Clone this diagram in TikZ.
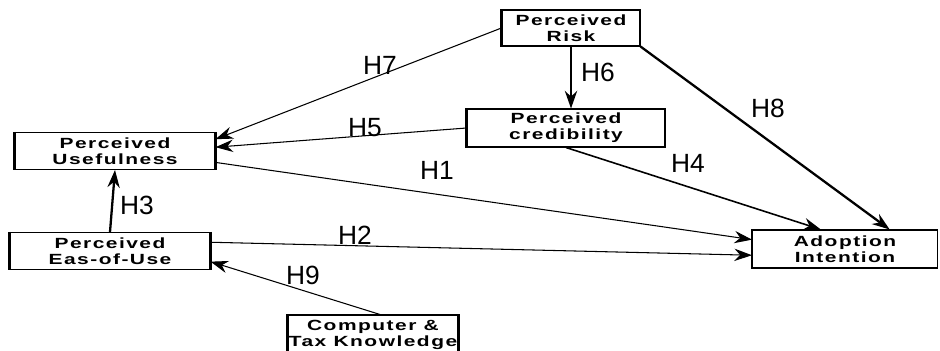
\documentclass[tikz,border=0pt]{standalone}
\usepackage{fontspec}
\setmainfont{Liberation Sans}
\newfontfamily\boxfont[FakeStretch=1.42,LetterSpace=10]{Liberation Sans}
\usetikzlibrary{arrows.meta,calc}
\begin{document}
\begin{tikzpicture}[x=0.02cm,y=-0.02cm,
    construct/.style={draw, line width=0.6pt, fill=white, align=center, inner sep=0pt,
      font=\boxfont\bfseries\fontsize{8.4}{9.2}\selectfont},
    hyp/.style={-{Stealth[length=10pt,width=7pt]}, line width=0.6pt},
    hypbold/.style={hyp, line width=1.3pt},
    hlabel/.style={font=\fontsize{15}{17}\selectfont}]
    \clip (0,0) rectangle (940,351);
    \fill[white] (0,0) rectangle (940,351);

    % Draw constructs
    \node[construct, minimum width=2.76cm, minimum height=0.72cm] (risk) at (571,28) {Perceived\\Risk};
    \node[construct, minimum width=3.96cm, minimum height=0.76cm] (cred) at (566,128) {Perceived\\credibility};
    \node[construct, minimum width=4cm, minimum height=0.74cm] (use) at (115,151) {Perceived\\Usefulness};
    \node[construct, minimum width=4cm, minimum height=0.74cm] (eas) at (110,251) {Perceived\\Eas-of-Use};
    \node[construct, minimum width=3.4cm, minimum height=0.8cm] (comp) at (373,335) {Computer \&\\Tax Knowledge};
    \node[construct, minimum width=3.7cm, minimum height=0.76cm] (adopt) at (845,249) {Adoption\\Intention};

    % Heavy left sides
    \foreach \n in {risk,cred,use,eas,comp,adopt}
        \draw[line width=1.5pt] (\n.north west) -- (\n.south west);
    \foreach \n in {use,eas,comp}
        \draw[line width=1.2pt] (\n.north east) -- (\n.south east);

    % Draw hypotheses
    \draw[hyp] (risk.west) -- ($(use.north east)!0.19!(use.south east)$);
    \draw[hypbold] (risk.south) -- (risk.south |- cred.north);
    \draw[hypbold] (risk.south east) -- ($(adopt.north west)!0.74!(adopt.north east)$);
    \draw[hyp] (cred.west) -- ($(use.north east)!0.4!(use.south east)$);
    \draw[hyp] ($(use.north east)!0.8!(use.south east)$) -- ($(adopt.north west)!0.26!(adopt.south west)$);
    \draw[hyp, line width=0.9pt] (cred.south) -- ($(adopt.north west)!0.37!(adopt.north east)$);
    \draw[hypbold] (eas.north) -- (use.south);
    \draw[hyp] ($(eas.north east)!0.27!(eas.south east)$) -- ($(adopt.north west)!0.66!(adopt.south west)$);
    \draw[hyp] ($(comp.north)+(7,0)$) -- ($(eas.north east)!0.78!(eas.south east)$);

    % Labels
    \node[hlabel] (h7) at (380,65) {H7};
    \node[hlabel] (h6) at (598,72) {H6};
    \node[hlabel] (h8) at (768,108) {H8};
    \node[hlabel] (h5) at (365,128) {H5};
    \node[hlabel] (h1) at (437,170) {H1};
    \node[hlabel] (h4) at (688,163) {H4};
    \node[hlabel] (h3) at (137,205) {H3};
    \node[hlabel] (h2) at (355,235) {H2};
    \node[hlabel] (h9) at (303,275) {H9};
\end{tikzpicture}
\end{document}
